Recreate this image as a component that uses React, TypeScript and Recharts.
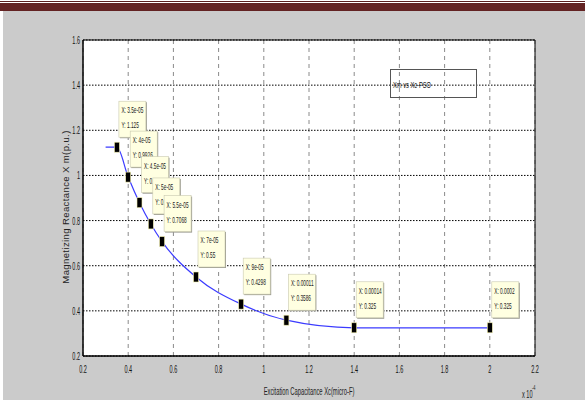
import React from "react";
import {
  CartesianGrid,
  ComposedChart,
  Line,
  ReferenceArea,
  Scatter,
  XAxis,
  YAxis,
} from "recharts";

// capacitance in units of 1e-4 F, reactance in p.u.
const xTicks = [0.2, 0.4, 0.6, 0.8, 1, 1.2, 1.4, 1.6, 1.8, 2, 2.2];
const yTicks = [0.2, 0.4, 0.6, 0.8, 1, 1.2, 1.4, 1.6];

const tipX = [0.35, 0.4, 0.45, 0.5, 0.55, 0.7, 0.9, 1.1, 1.4, 2.0];
const tipY = [1.125, 0.9926, 0.8792, 0.7851, 0.7068, 0.55, 0.4298, 0.3586, 0.325, 0.325];
const tipXText = [
  "3.5e-05",
  "4e-05",
  "4.5e-05",
  "5e-05",
  "5.5e-05",
  "7e-05",
  "9e-05",
  "0.00011",
  "0.00014",
  "0.0002",
];

// curve starts a little left of the first marked point
const curveStartX = [0.3];
const curveStartY = [1.125];

const FONT = "'Liberation Sans', Arial, sans-serif";
const SQUEEZE = 0.56;

const tips = tipX.map((x, i) => ({ x, y: tipY[i], label: tipXText[i] }));
const curve = [
  ...curveStartX.map((x, i) => ({ x, y: curveStartY[i] })),
  ...tips.map((t) => ({ x: t.x, y: t.y })),
];

const fmtTick = (v: number) => String(Number(v.toFixed(1)));
const fmtY = (v: number) => String(Number(v.toPrecision(4)));

function XTick({ x, y, payload }: any) {
  return (
    <text
      transform={`translate(${x},${y + 17}) scale(0.5,1)`}
      textAnchor="middle"
      fontFamily={FONT}
      fontSize={11}
      fill="#111"
    >
      {fmtTick(payload.value)}
    </text>
  );
}

function YTick({ x, y, payload }: any) {
  return (
    <text
      transform={`translate(${x - 3},${y + 4}) scale(0.5,1)`}
      textAnchor="end"
      fontFamily={FONT}
      fontSize={11}
      fill="#111"
    >
      {fmtTick(payload.value)}
    </text>
  );
}

// data tip: black square marker plus a pale yellow box with X/Y readout
function TipShape({ cx, cy, payload }: any) {
  const bx = cx + 2;
  const by = cy - 46;
  return (
    <g>
      <rect x={bx + 1} y={by + 1} width={27} height={36} fill="#9a9a90" />
      <rect x={bx} y={by} width={27} height={36} fill="#ffffe1" stroke="#c9c9b0" strokeWidth={0.6} />
      <text
        transform={`translate(${bx + 2.5},${by + 12}) scale(${SQUEEZE},1)`}
        fontFamily={FONT}
        fontSize={8.5}
        fill="#222"
      >
        {`X: ${payload.label}`}
      </text>
      <text
        transform={`translate(${bx + 2.5},${by + 27}) scale(${SQUEEZE},1)`}
        fontFamily={FONT}
        fontSize={8.5}
        fill="#222"
      >
        {`Y: ${fmtY(payload.y)}`}
      </text>
      <rect x={cx - 2.5} y={cy - 5} width={5} height={10} fill="#000" stroke="#f4f0b0" strokeWidth={0.6} />
    </g>
  );
}

export default function App() {
  return (
    <div
      style={{
        position: "absolute",
        left: 0,
        top: 0,
        width: 585,
        height: 400,
        background: "#cbcbcb",
        overflow: "hidden",
      }}
    >
      {/* header band */}
      <div style={{ position: "absolute", left: 0, top: 0, width: 585, height: 11, background: "#fff" }} />
      <div style={{ position: "absolute", left: 0, top: 1, width: 585, height: 1, background: "#5a1f1f" }} />
      <div style={{ position: "absolute", left: 0, top: 3, width: 585, height: 8, background: "#632323" }} />
      <div style={{ position: "absolute", left: 0, top: 11, width: 3, height: 389, background: "#fff" }} />

      <ComposedChart
        width={585}
        height={400}
        margin={{ top: 40, right: 50, bottom: 43, left: 82 }}
        style={{ position: "absolute", left: 0, top: 0 }}
      >
        <CartesianGrid horizontal={false} vertical fill="#fff" stroke="#8a8a8a" strokeDasharray="4 4" />
        <CartesianGrid horizontal vertical={false} stroke="#000" strokeDasharray="1.5 1.5" />
        <XAxis
          type="number"
          dataKey="x"
          domain={[0.2, 2.2]}
          ticks={xTicks}
          interval={0}
          height={1}
          tickSize={0}
          tickMargin={0}
          tickLine={false}
          axisLine={{ stroke: "#000" }}
          tick={<XTick />}
          allowDataOverflow
        />
        <YAxis
          type="number"
          dataKey="y"
          domain={[0.2, 1.6]}
          ticks={yTicks}
          interval={0}
          width={1}
          tickSize={0}
          tickMargin={0}
          tickLine={false}
          axisLine={{ stroke: "#000" }}
          tick={<YTick />}
          allowDataOverflow
        />
        <ReferenceArea x1={0.2} x2={2.2} y1={0.2} y2={1.6} fill="none" stroke="#000" strokeWidth={1} />
        <Line
          data={curve}
          dataKey="y"
          type="monotone"
          stroke="#3b3bff"
          strokeWidth={1.2}
          dot={false}
          activeDot={false}
          isAnimationActive={false}
        />
        <Scatter data={tips} dataKey="y" shape={<TipShape />} isAnimationActive={false} />
      </ComposedChart>

      {/* titles, legend and exponent */}
      <svg
        width={585}
        height={400}
        style={{ position: "absolute", left: 0, top: 0, pointerEvents: "none" }}
      >
        <text
          transform="translate(69,207) rotate(-90)"
          textAnchor="middle"
          fontFamily={FONT}
          fontSize={9.5}
          letterSpacing={0.4}
          fill="#222"
        >
          Magnetizing Reactance X m(p.u.)
        </text>
        <text
          transform={`translate(309,395) scale(0.58,1)`}
          textAnchor="middle"
          fontFamily={FONT}
          fontSize={10}
          fill="#222"
        >
          Excitation Capacitance Xc(micro-F)
        </text>
        <text transform={`translate(522,398) scale(${SQUEEZE},1)`} fontFamily={FONT} fontSize={10} fill="#222">
          x 10
        </text>
        <text transform={`translate(532,390) scale(${SQUEEZE},1)`} fontFamily={FONT} fontSize={7} fill="#222">
          -4
        </text>
        <rect x={390.5} y={69.5} width={86} height={28} fill="none" stroke="#555" strokeWidth={1} />
        <text transform={`translate(393,88) scale(0.6,1)`} fontFamily={FONT} fontSize={9.5} fill="#111">
          Xm vs Xc-PSO
        </text>
      </svg>
    </div>
  );
}
